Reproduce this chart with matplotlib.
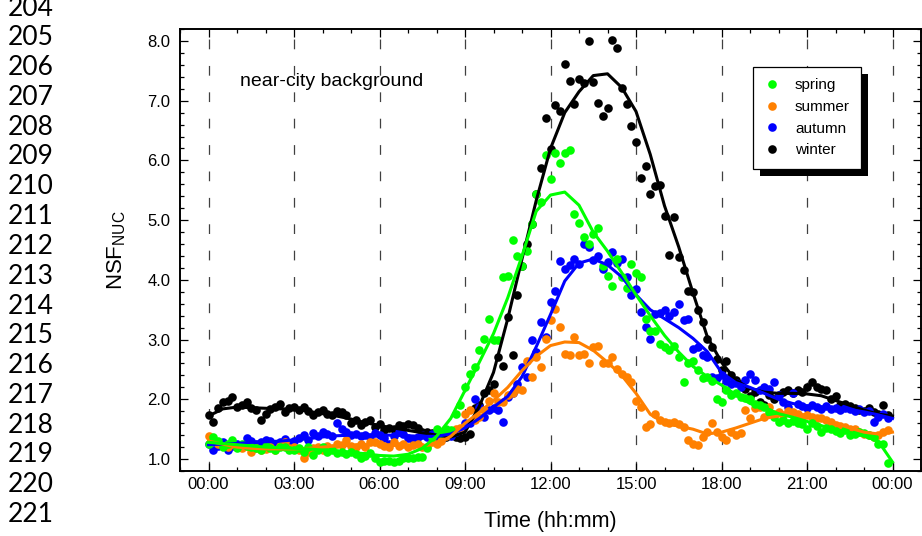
import numpy as np
import matplotlib
matplotlib.use("Agg")
import matplotlib.pyplot as plt
from matplotlib.ticker import MultipleLocator, FixedLocator
from matplotlib.lines import Line2D
from matplotlib.patches import Rectangle
from matplotlib.transforms import IdentityTransform

plt.rcParams['font.family'] = ['Liberation Sans', 'DejaVu Sans']
plt.rcParams['mathtext.fontset'] = 'custom'
plt.rcParams['mathtext.rm'] = 'Liberation Sans'
plt.rcParams['lines.scale_dashes'] = False

# 10-minute means, 00:00 .. 23:50 (one row = one hour)
t_dots = np.arange(144) / 6
winter = [1.73, 1.62, 1.85, 1.96, 1.98, 2.04,
          1.87, 1.90, 1.96, 1.85, 1.82, 1.66,
          1.76, 1.84, 1.87, 1.93, 1.79, 1.85,
          1.87, 1.82, 1.87, 1.80, 1.73, 1.79,
          1.82, 1.76, 1.73, 1.80, 1.79, 1.74,
          1.60, 1.65, 1.57, 1.62, 1.65, 1.54,
          1.58, 1.48, 1.52, 1.50, 1.57, 1.55,
          1.58, 1.57, 1.52, 1.46, 1.45, 1.43,
          1.40, 1.38, 1.37, 1.40, 1.37, 1.35,
          1.37, 1.42, 1.85, 1.90, 2.10, 2.15,
          2.25, 2.71, 2.55, 3.37, 2.74, 3.74,
          4.24, 4.60, 4.93, 5.44, 5.88, 6.71,
          6.19, 6.93, 6.83, 7.61, 7.33, 6.94,
          7.37, 7.30, 8.00, 7.31, 6.96, 6.75,
          6.88, 8.01, 7.88, 7.22, 6.95, 6.58,
          6.30, 5.70, 5.90, 5.44, 5.57, 5.59,
          5.07, 4.42, 5.06, 4.39, 4.16, 3.82,
          3.80, 3.49, 3.29, 3.01, 2.87, 2.68,
          2.49, 2.65, 2.40, 2.32, 2.25, 2.18,
          2.05, 2.12, 1.95, 1.90, 2.07, 2.01,
          2.08, 2.12, 2.15, 2.10, 2.15, 2.12,
          2.21, 2.29, 2.21, 2.18, 2.15, 2.01,
          2.05, 1.90, 1.93, 1.88, 1.85, 1.82,
          1.80, 1.85, 1.79, 1.75, 1.90, 1.74]
autumn = [1.26, 1.15, 1.22, 1.28, 1.15, 1.22,
          1.25, 1.20, 1.35, 1.30, 1.25, 1.28,
          1.32, 1.30, 1.25, 1.28, 1.33, 1.26,
          1.30, 1.35, 1.40, 1.32, 1.43, 1.38,
          1.46, 1.42, 1.38, 1.60, 1.51, 1.45,
          1.40, 1.42, 1.38, 1.40, 1.37, 1.43,
          1.40, 1.35, 1.26, 1.38, 1.46, 1.42,
          1.35, 1.32, 1.37, 1.40, 1.37, 1.42,
          1.37, 1.32, 1.40, 1.38, 1.46, 1.50,
          1.60, 1.60, 2.01, 1.87, 1.70, 1.82,
          1.85, 1.82, 1.62, 2.04, 2.10, 2.26,
          2.54, 2.37, 2.99, 2.80, 3.29, 3.04,
          3.63, 3.82, 4.32, 4.18, 4.25, 4.35,
          4.27, 4.60, 4.55, 4.33, 4.40, 4.18,
          4.30, 4.46, 4.29, 4.35, 4.04, 3.74,
          3.85, 3.46, 3.21, 3.01, 3.43, 3.45,
          3.49, 3.40, 3.46, 3.59, 3.32, 3.35,
          2.85, 2.87, 2.74, 2.71, 2.37, 2.35,
          2.40, 2.30, 2.25, 2.28, 2.20, 2.32,
          2.43, 2.32, 2.15, 2.20, 2.18, 2.29,
          2.07, 1.95, 1.87, 2.10, 1.92, 1.88,
          1.85, 1.90, 1.87, 1.84, 1.88, 1.83,
          1.85, 1.82, 1.86, 1.83, 1.80, 1.84,
          1.78, 1.80, 1.62, 1.70, 1.75, 1.68]
summer = [1.38, 1.30, 1.25, 1.22, 1.20, 1.25,
          1.20, 1.18, 1.22, 1.12, 1.18, 1.15,
          1.17, 1.20, 1.15, 1.22, 1.29, 1.18,
          1.20, 1.15, 1.01, 1.12, 1.18, 1.20,
          1.15, 1.22, 1.18, 1.25, 1.23, 1.32,
          1.22, 1.20, 1.26, 1.20, 1.29, 1.29,
          1.25, 1.22, 1.20, 1.28, 1.22, 1.25,
          1.20, 1.23, 1.25, 1.20, 1.20, 1.28,
          1.25, 1.30, 1.38, 1.45, 1.51, 1.52,
          1.76, 1.82, 1.65, 1.71, 1.82, 1.98,
          2.10, 1.96, 1.96, 2.07, 2.10, 2.18,
          2.15, 2.65, 2.37, 2.71, 2.54, 3.01,
          3.32, 3.52, 3.21, 2.76, 2.74, 3.04,
          2.74, 2.76, 2.60, 2.87, 2.90, 2.60,
          2.60, 2.71, 2.51, 2.43, 2.37, 2.29,
          1.98, 1.87, 1.54, 1.58, 1.76, 1.65,
          1.62, 1.60, 1.62, 1.58, 1.54, 1.32,
          1.26, 1.23, 1.37, 1.45, 1.60, 1.46,
          1.37, 1.32, 1.46, 1.40, 1.43, 1.82,
          1.68, 1.85, 1.87, 1.71, 1.87, 1.75,
          1.78, 1.73, 1.80, 1.79, 1.75, 1.70,
          1.73, 1.70, 1.68, 1.68, 1.65, 1.62,
          1.57, 1.55, 1.53, 1.51, 1.50, 1.45,
          1.42, 1.40, 1.37, 1.40, 1.45, 1.48]
spring = [1.25, 1.37, 1.30, 1.20, 1.25, 1.32,
          1.19, 1.25, 1.22, 1.20, 1.18, 1.15,
          1.22, 1.18, 1.15, 1.20, 1.20, 1.15,
          1.15, 1.18, 1.12, 1.20, 1.07, 1.15,
          1.20, 1.12, 1.15, 1.10, 1.12, 1.09,
          1.12, 1.09, 1.01, 1.05, 1.10, 1.01,
          0.95, 0.97, 0.97, 0.95, 0.96, 1.01,
          1.01, 1.02, 1.04, 1.04, 1.18, 1.37,
          1.51, 1.43, 1.50, 1.48, 1.76, 1.90,
          2.21, 2.43, 2.54, 2.82, 3.01, 3.35,
          3.00, 2.99, 4.04, 4.07, 4.66, 4.40,
          4.24, 4.49, 4.93, 5.44, 5.31, 6.09,
          5.69, 6.12, 5.95, 6.13, 6.18, 5.10,
          4.95, 4.72, 4.60, 4.77, 4.87, 4.24,
          4.07, 3.89, 4.35, 4.04, 3.87, 4.26,
          4.11, 4.05, 3.35, 3.14, 3.15, 2.92,
          2.87, 2.82, 2.90, 2.71, 2.29, 2.60,
          2.65, 2.49, 2.35, 2.38, 2.30, 2.00,
          1.96, 2.15, 2.07, 2.10, 2.04, 2.02,
          2.01, 1.93, 1.90, 1.87, 1.79, 1.70,
          1.62, 1.65, 1.60, 1.63, 1.60, 1.58,
          1.51, 1.60, 1.55, 1.46, 1.52, 1.50,
          1.47, 1.43, 1.48, 1.40, 1.42, 1.45,
          1.43, 1.40, 1.37, 1.26, 1.26, 0.94]

# smoothed curves, every 30 min, 00:00 .. 24:00
t_fit = np.arange(49) / 2
winter_fit = [1.72, 1.84, 1.87, 1.86, 1.85, 1.84, 1.84, 1.80, 1.76, 1.72,
              1.67, 1.61, 1.56, 1.52, 1.48, 1.44, 1.40, 1.37, 1.45, 1.88,
              2.45, 3.35, 4.35, 5.33, 6.20, 6.80, 7.15, 7.42, 7.45, 7.22,
              6.82, 6.10, 5.24, 4.55, 3.78, 3.05, 2.62, 2.32, 2.18, 2.12,
              2.10, 2.10, 2.09, 2.06, 1.98, 1.90, 1.82, 1.75, 1.72]
autumn_fit = [1.24, 1.25, 1.26, 1.28, 1.29, 1.30, 1.32, 1.34, 1.37, 1.39,
              1.40, 1.40, 1.40, 1.40, 1.39, 1.38, 1.38, 1.42, 1.52, 1.68,
              1.87, 2.05, 2.38, 2.88, 3.42, 3.98, 4.28, 4.35, 4.25, 4.05,
              3.75, 3.50, 3.35, 3.20, 3.02, 2.80, 2.45, 2.28, 2.20, 2.10,
              2.00, 1.93, 1.89, 1.87, 1.85, 1.83, 1.79, 1.74, 1.68]
summer_fit = [1.30, 1.25, 1.20, 1.18, 1.17, 1.17, 1.17, 1.18, 1.20, 1.22,
              1.23, 1.24, 1.24, 1.23, 1.22, 1.22, 1.25, 1.38, 1.60, 1.78,
              1.98, 2.20, 2.48, 2.72, 2.90, 2.96, 2.95, 2.82, 2.62, 2.40,
              2.10, 1.75, 1.60, 1.55, 1.50, 1.42, 1.45, 1.52, 1.60, 1.68,
              1.72, 1.75, 1.74, 1.68, 1.60, 1.52, 1.45, 1.42, 1.45]
spring_fit = [1.28, 1.26, 1.24, 1.22, 1.20, 1.19, 1.18, 1.17, 1.15, 1.13,
              1.11, 1.09, 1.06, 1.05, 1.08, 1.18, 1.38, 1.68, 2.15, 2.62,
              3.10, 3.70, 4.40, 5.15, 5.42, 5.47, 5.25, 4.80, 4.48, 4.12,
              3.75, 3.40, 3.07, 2.79, 2.55, 2.38, 2.24, 2.08, 1.93, 1.86,
              1.76, 1.70, 1.63, 1.56, 1.49, 1.44, 1.39, 1.30, 0.95]

seasons = ['spring', 'summer', 'autumn', 'winter']
colors = {'spring': '#00ff00', 'summer': '#ff8000', 'autumn': '#0000ff', 'winter': '#000000'}
dots = {'spring': spring, 'summer': summer, 'autumn': autumn, 'winter': winter}
fits = {'spring': spring_fit, 'summer': summer_fit, 'autumn': autumn_fit, 'winter': winter_fit}

hour_ticks = [0, 3, 6, 9, 12, 15, 18, 21, 24]
hour_labels = ['00:00', '03:00', '06:00', '09:00', '12:00', '15:00', '18:00', '21:00', '00:00']
line_numbers = [str(n) for n in range(204, 222)]

W, H = 922, 536
fig = plt.figure(figsize=(W / 100, H / 100), dpi=100)
# axes box in pixels: left 180, top 29, right 921, bottom 471
ax = fig.add_axes([180 / W, (H - 471) / H, 741 / W, 442 / H])


def ax_pos(px, py):
    # pixel (from top-left of figure) -> axes fraction
    return (px - 180) / 741, (471 - py) / 442


for h in hour_ticks:
    ax.axvline(h, color='0.25', lw=0.9, dashes=(7, 12), zorder=1)

# winter first, spring on top
for s in seasons[::-1]:
    ax.plot(t_dots, dots[s], 'o', color=colors[s], ms=6.2, mec='none', zorder=2)
    ax.plot(t_fit, fits[s], '-', color=colors[s], lw=2.2, zorder=3)

ax.set_xlim(-1, 25)
ax.set_ylim(0.8, 8.2)
ax.xaxis.set_major_locator(FixedLocator(hour_ticks))
ax.set_xticklabels(hour_labels)
ax.xaxis.set_minor_locator(MultipleLocator(1))
ax.yaxis.set_major_locator(MultipleLocator(1))
ax.yaxis.set_minor_locator(MultipleLocator(0.2))
ax.yaxis.set_major_formatter(plt.FormatStrFormatter('%.1f'))
ax.tick_params(which='both', direction='in', top=True, right=True, width=0.9)
ax.tick_params(which='major', length=6, labelsize=12)
ax.tick_params(which='minor', length=3)
ax.tick_params(axis='x', pad=4)
ax.tick_params(axis='y', pad=7)
for sp in ax.spines.values():
    sp.set_linewidth(1.4)

ax.set_xlabel('Time (hh:mm)', fontsize=15.5, labelpad=14)
ax.set_ylabel(r'NSF$_{\mathrm{NUC}}$', fontsize=16, labelpad=14)
tx, ty = ax_pos(240, 82)
ax.text(tx, ty, 'near-city background', fontsize=14, va='center', ha='left', transform=ax.transAxes)

handles = [Line2D([], [], marker='o', ls='none', color=colors[s], ms=6.2, mec='none') for s in seasons]
leg = ax.legend(handles, seasons, loc='upper left', bbox_to_anchor=ax_pos(753, 67),
                fontsize=11, frameon=True, fancybox=False, edgecolor='black', framealpha=1,
                handlelength=1.0, handletextpad=1.0, borderpad=0.75, labelspacing=0.5,
                borderaxespad=0)
leg.get_frame().set_linewidth(0.9)
leg.set_zorder(6)

fig.canvas.draw()
bb = leg.get_window_extent()
ax.add_patch(Rectangle((bb.x0 + 7, bb.y0 - 7), bb.width, bb.height, transform=IdentityTransform(),
                       facecolor='black', edgecolor='none', zorder=5.5, clip_on=False))

for k, lab in enumerate(line_numbers):
    fig.text(31 / W, 1 - (8 + 29.8 * k) / H, lab, fontsize=19, family='Lato',
             ha='center', va='center')

fig.savefig('out.png', dpi=100)
